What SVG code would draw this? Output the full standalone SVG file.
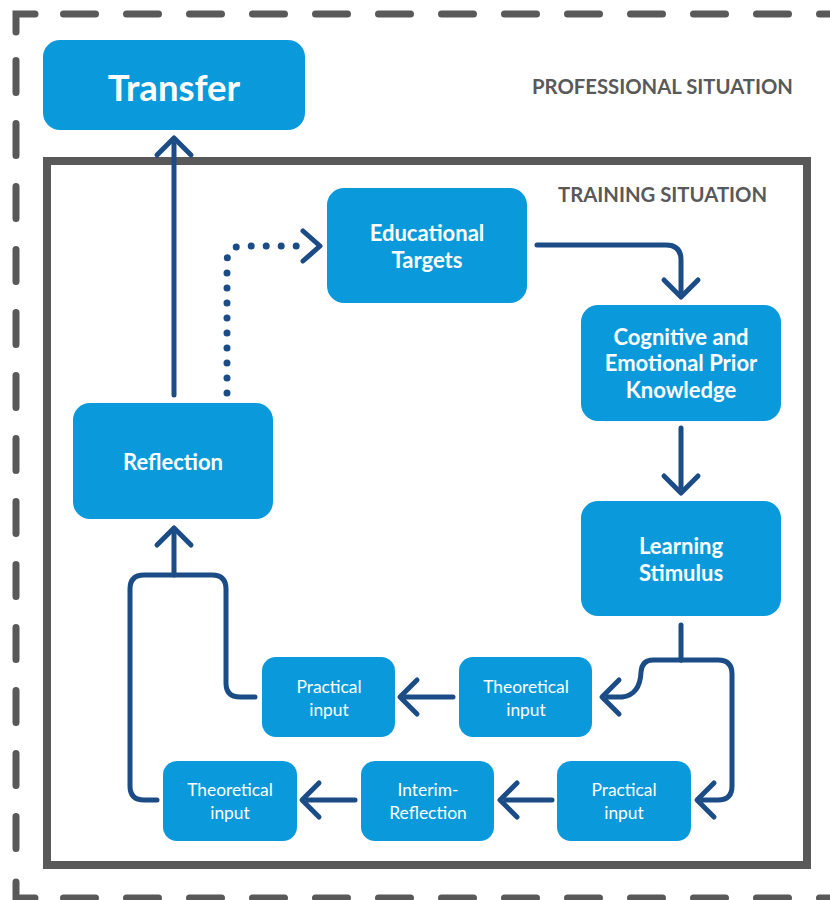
<svg xmlns="http://www.w3.org/2000/svg" width="830" height="900" viewBox="0 0 830 900">
<defs>
<style>
.frame{fill:none;stroke:#595959;stroke-width:7;stroke-linecap:round}
.dash{stroke-dasharray:32 31}
.inner{fill:none;stroke:#595959;stroke-width:8}
.lbl{font-family:Lato,"Liberation Sans",sans-serif;font-weight:700;font-size:20.3px;fill:#595959}
.box{fill:#0A9ADB}
.big{font-family:Lato,"Liberation Sans",sans-serif;font-weight:700;font-size:22px;fill:#fff;text-anchor:middle}
.small{font-family:Lato,"Liberation Sans",sans-serif;font-weight:400;font-size:17.4px;fill:#fff;text-anchor:middle}
.con{fill:none;stroke:#1B4C85;stroke-width:5;stroke-linecap:round;stroke-linejoin:round}
.arr{marker-end:url(#chev)}
.dots{stroke-width:7;stroke-dasharray:0 15}
</style>
<marker id="chev" markerUnits="userSpaceOnUse" orient="auto" refX="0" refY="0" markerWidth="50" markerHeight="50" viewBox="-25 -25 50 50" overflow="visible">
<path d="M -11 -17 L 6 0 L -11 17" fill="none" stroke="#1B4C85" stroke-width="5" stroke-linecap="round" stroke-linejoin="round"/>
</marker>
<marker id="chevD" markerUnits="userSpaceOnUse" orient="auto" refX="0" refY="0" markerWidth="50" markerHeight="50" viewBox="-25 -25 50 50" overflow="visible">
<path d="M -2 -15 L 15 0 L -2 15" fill="none" stroke="#1B4C85" stroke-width="5" stroke-linecap="round" stroke-linejoin="round"/>
</marker>
</defs>
<rect width="830" height="900" fill="#fff"/>
<g id="professional-frame">
<path class="frame" d="M 16 32 V 14 H 35" stroke-linejoin="miter"/>
<path class="frame dash" d="M 63.5 14 H 850"/>
<path class="frame dash" d="M 16 60.5 V 852"/>
<path class="frame" d="M 16 882 V 898 H 35" stroke-linejoin="miter"/>
<path class="frame dash" d="M 63.5 898 H 850"/>
<text class="lbl" x="532" y="94">PROFESSIONAL SITUATION</text>
</g>
<g id="training-frame">
<rect class="inner" x="47" y="161" width="760" height="704"/>
<text class="lbl" x="558" y="202">TRAINING SITUATION</text>
</g>
<g id="connectors">
<path class="con arr" d="M 174 395 V 144"/>
<path class="con dots" d="M 227 393 V 262 Q 227 246 243 246 H 305" marker-end="url(#chevD)"/>
<path class="con arr" d="M 537 245 H 666 Q 681 245 681 260 V 291"/>
<path class="con arr" d="M 681 428 V 487"/>
<path class="con" d="M 681 625 V 660"/>
<path class="con arr" d="M 681 660 H 653 Q 642 660 641 672 Q 640 695 622 697 H 608"/>
<path class="con arr" d="M 681 660 H 718 Q 732 660 732 674 V 786 Q 732 800 718 800 H 703"/>
<path class="con arr" d="M 453 697 H 406"/>
<path class="con arr" d="M 552 800 H 506"/>
<path class="con arr" d="M 355 800 H 308"/>
<path class="con" d="M 255 697 H 240 Q 226 697 226 683 V 589 Q 226 575 212 575 H 144 Q 130 575 130 589 V 786 Q 130 800 144 800 H 157"/>
<path class="con arr" d="M 174 575 V 534"/>
</g>
<g id="transfer">
<rect class="box" x="43" y="40" width="262" height="90" rx="17"/>
<text class="big" x="174" y="101" style="font-size:36.5px">Transfer</text>
</g>
<g id="educational-targets">
<rect class="box" x="327" y="188" width="200" height="115" rx="17"/>
<text class="big" x="427" y="241">Educational</text>
<text class="big" x="427" y="268">Targets</text>
</g>
<g id="prior-knowledge">
<rect class="box" x="581" y="305" width="200" height="116" rx="17"/>
<text class="big" x="681" y="345">Cognitive and</text>
<text class="big" x="681" y="371">Emotional Prior</text>
<text class="big" x="681" y="398">Knowledge</text>
</g>
<g id="learning-stimulus">
<rect class="box" x="581" y="501" width="200" height="115" rx="17"/>
<text class="big" x="681" y="554">Learning</text>
<text class="big" x="681" y="581">Stimulus</text>
</g>
<g id="reflection">
<rect class="box" x="73" y="403" width="200" height="116" rx="17"/>
<text class="big" x="173" y="470">Reflection</text>
</g>
<g id="practical-input-1">
<rect class="box" x="262" y="657" width="133" height="80" rx="14"/>
<text class="small" x="329" y="693">Practical</text>
<text class="small" x="329" y="716">input</text>
</g>
<g id="theoretical-input-1">
<rect class="box" x="459" y="657" width="133" height="80" rx="14"/>
<text class="small" x="526" y="693">Theoretical</text>
<text class="small" x="526" y="716">input</text>
</g>
<g id="practical-input-2">
<rect class="box" x="557" y="761" width="134" height="80" rx="14"/>
<text class="small" x="624" y="796">Practical</text>
<text class="small" x="624" y="819">input</text>
</g>
<g id="interim-reflection">
<rect class="box" x="361" y="761" width="133" height="80" rx="14"/>
<text class="small" x="428" y="796">Interim-</text>
<text class="small" x="428" y="819">Reflection</text>
</g>
<g id="theoretical-input-2">
<rect class="box" x="163" y="761" width="134" height="80" rx="14"/>
<text class="small" x="230" y="796">Theoretical</text>
<text class="small" x="230" y="819">input</text>
</g>
</svg>
